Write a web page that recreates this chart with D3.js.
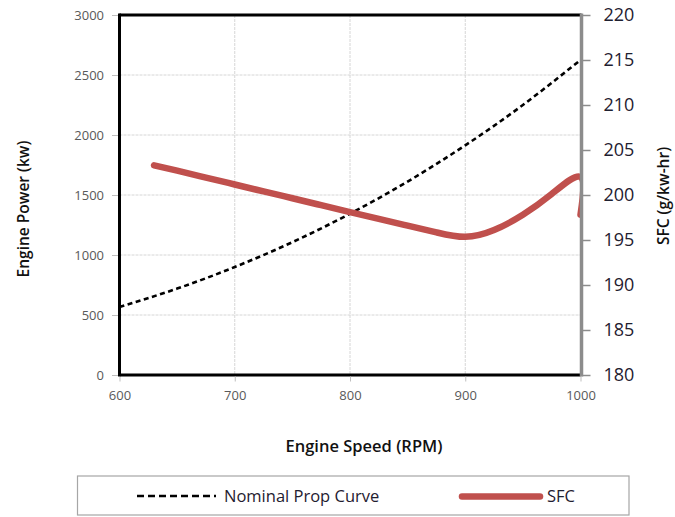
<!DOCTYPE html>
<html><head><meta charset="utf-8">
<script src="https://cdn.jsdelivr.net/npm/d3@7"></script>
<style>body{margin:0;background:#fff}svg{display:block}</style>
</head><body>
<svg id="c" width="675" height="517"></svg>
<script>
// ---- data ----
const propRpm   = [600, 650, 700, 750, 800, 850, 900, 950, 1000];
const propPower = [567, 720, 900, 1107, 1344, 1612, 1914, 2250, 2625];
const sfcRpm    = [630, 650, 675, 700, 725, 750, 775, 800, 825, 850, 875, 900, 925, 950, 975, 1000, 1000];
const sfcValue  = [203.3, 202.7, 201.93, 201.17, 200.4, 199.64, 198.87, 198.1, 197.34, 196.6, 195.85, 195.35, 196.1, 197.8, 200.1, 202.0, 197.8];
const xTicks    = [600, 700, 800, 900, 1000];
const yLeftTicks  = [0, 500, 1000, 1500, 2000, 2500, 3000];
const yRightTicks = [180, 185, 190, 195, 200, 205, 210, 215, 220];
const seriesNames = ["Nominal Prop Curve", "SFC"];

const svg = d3.select("#c");
const L = 119.5, R = 580.5, T = 15, B = 375;
const x = d3.scaleLinear().domain([600, 1000]).range([L, R]);
const yL = d3.scaleLinear().domain([0, 3000]).range([B, T]);
const yR = d3.scaleLinear().domain([180, 220]).range([B, T]);
const font = "'Open Sans', 'DejaVu Sans', sans-serif";
const fmt = d3.format("d");

// grid
const g = svg.append("g");
g.selectAll(".vg").data(xTicks.slice(1, -1)).enter().append("line")
  .attr("x1", d => x(d)).attr("x2", d => x(d)).attr("y1", T).attr("y2", B)
  .attr("stroke", "#d6d6d6").attr("stroke-width", 1).attr("stroke-dasharray", "3,1");
g.selectAll(".hg").data(yLeftTicks.slice(1, -1)).enter().append("line")
  .attr("x1", L).attr("x2", R).attr("y1", d => yL(d)).attr("y2", d => yL(d))
  .attr("stroke", "#d6d6d6").attr("stroke-width", 1).attr("stroke-dasharray", "3,1");

// clip
svg.append("clipPath").attr("id", "clip").append("rect")
  .attr("x", L).attr("y", T).attr("width", R - L).attr("height", B - T);

// prop curve
const propLine = d3.line().x((d, i) => x(propRpm[i])).y(d => yL(d)).curve(d3.curveNatural);
svg.append("path").datum(propPower).attr("d", propLine)
  .attr("fill", "none").attr("stroke", "#000").attr("stroke-width", 2.6)
  .attr("stroke-dasharray", "5,3.5");

// SFC
const sfcLine = d3.line().x((d, i) => x(sfcRpm[i])).y(d => yR(d)).curve(d3.curveNatural);
svg.append("path").datum(sfcValue).attr("d", sfcLine).attr("clip-path", "url(#clip)")
  .attr("fill", "none").attr("stroke", "#c0504d").attr("stroke-width", 6.5)
  .attr("stroke-linecap", "round");

// axes frame
svg.append("line").attr("x1", L).attr("x2", R + 1).attr("y1", T).attr("y2", T).attr("stroke", "#000").attr("stroke-width", 3);
svg.append("line").attr("x1", L).attr("x2", R).attr("y1", B).attr("y2", B).attr("stroke", "#000").attr("stroke-width", 3);
svg.append("line").attr("x1", L).attr("x2", L).attr("y1", T - 1.5).attr("y2", B + 1.5).attr("stroke", "#000").attr("stroke-width", 3);

// left axis
const axL = d3.axisLeft(yL).tickValues(yLeftTicks).tickFormat(fmt).tickSize(6).tickPadding(8);
const gL = svg.append("g").attr("transform", `translate(${L - 1.5},0)`).call(axL);
gL.select(".domain").remove();
gL.selectAll(".tick line").attr("stroke", "#bfbfbf");
gL.selectAll(".tick text").attr("font-family", font).attr("font-size", 13).attr("fill", "#595959");

// bottom axis
const axB = d3.axisBottom(x).tickValues(xTicks).tickFormat(fmt).tickSize(5).tickPadding(9);
const gB = svg.append("g").attr("transform", `translate(0,${B + 1.5})`).call(axB);
gB.select(".domain").remove();
gB.selectAll(".tick line").attr("stroke", "#bfbfbf");
gB.selectAll(".tick text").attr("font-family", font).attr("font-size", 13).attr("fill", "#595959");

// right axis
const axR = d3.axisRight(yR).tickValues(yRightTicks).tickFormat(fmt).tickSize(9).tickPadding(13);
const gR = svg.append("g").attr("transform", `translate(${R + 1},0)`).call(axR);
gR.select(".domain").remove();
gR.append("line").attr("x1", 0).attr("x2", 0).attr("y1", T - 1.5).attr("y2", B + 1.5)
  .attr("stroke", "#8c8c8c").attr("stroke-width", 3.5);
gR.selectAll(".tick line").attr("stroke", "#8c8c8c").attr("stroke-width", 1.5);
gR.selectAll(".tick text").attr("font-family", font).attr("font-size", 18).attr("fill", "#1f2030");

// titles
svg.append("text").attr("x", 364).attr("y", 452).attr("text-anchor", "middle")
  .attr("font-family", font).attr("font-size", 16.5).attr("font-weight", 600).attr("fill", "#111")
  .text("Engine Speed (RPM)");
svg.append("text").attr("transform", "translate(29,209) rotate(-90)").attr("text-anchor", "middle")
  .attr("font-family", font).attr("font-size", 15.5).attr("font-weight", 600).attr("fill", "#111")
  .text("Engine Power (kw)");
svg.append("text").attr("transform", "translate(669,196) rotate(-90)").attr("text-anchor", "middle")
  .attr("font-family", font).attr("font-size", 15.5).attr("font-weight", 600).attr("fill", "#111")
  .text("SFC (g/kw-hr)");

// legend
svg.append("rect").attr("x", 77.5).attr("y", 476).attr("width", 551.5).attr("height", 39)
  .attr("fill", "#fff").attr("stroke", "#a6a6a6").attr("stroke-width", 1.2);
svg.append("line").attr("x1", 137).attr("x2", 216).attr("y1", 496).attr("y2", 496)
  .attr("stroke", "#000").attr("stroke-width", 2.6).attr("stroke-dasharray", "7,4");
svg.append("text").attr("x", 224).attr("y", 502).attr("font-family", font).attr("font-size", 16.5)
  .attr("fill", "#1f2030").text(seriesNames[0]);
svg.append("line").attr("x1", 462).attr("x2", 540).attr("y1", 496.5).attr("y2", 496.5)
  .attr("stroke", "#c0504d").attr("stroke-width", 6.5).attr("stroke-linecap", "round");
svg.append("text").attr("x", 547).attr("y", 502).attr("font-family", font).attr("font-size", 16.5)
  .attr("fill", "#1f2030").text(seriesNames[1]);
</script>
</body></html>
